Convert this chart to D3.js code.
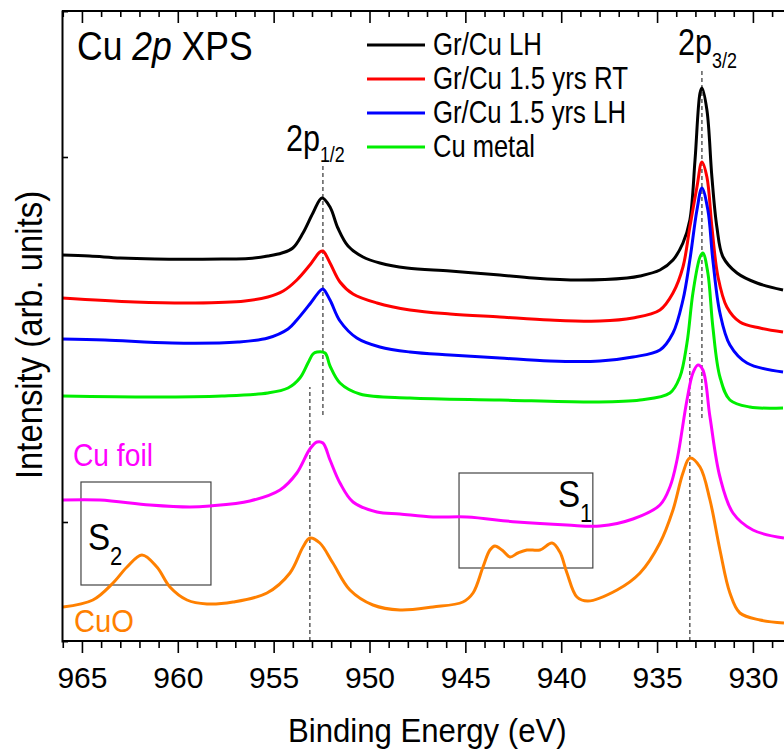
<!DOCTYPE html>
<html>
<head>
<meta charset="utf-8">
<script src="https://cdn.jsdelivr.net/npm/d3@7/dist/d3.min.js"></script>
<style>
  html, body { margin: 0; padding: 0; background: #fff; }
  svg { display: block; }
  text { font-family: "Liberation Sans", Arial, sans-serif; }
</style>
</head>
<body>
<svg id="chart" width="784" height="753"></svg>
<script>
// ---------------- DATA (binding energy in eV, intensity in arb. units) ----------------
const seriesNames = ["Gr/Cu LH", "Gr/Cu 1.5 yrs RT", "Gr/Cu 1.5 yrs LH", "Cu metal", "Cu foil", "CuO"];
const seriesColors = ["#000000", "#ff0000", "#0000ff", "#00ee00", "#ff00ff", "#ff8000"];

const grCuLH = [
  [966.04,386],[964.6,385],[963.0,383],[961.19,382],[957.7,382],[956.3,382.5],[955.3,385],
  [954.57,388],[954.0,393],[953.47,408],[952.95,428],[952.48,443],[952.06,434],
  [951.65,413],[951.12,395],[950.34,384],[949.46,378],[948.05,373],[945.8,370],[943.2,366],
  [941.47,363],[939.02,361],[936.57,363],[935.89,365],[934.85,371],[934.17,381],[933.65,398],
  [933.29,421],[933.02,481],[932.76,548],[932.66,553],[932.4,531],[932.14,464],[931.88,414],
  [931.56,384],[930.83,368],[929.79,358],[928.43,351]
];
const grCu15RT = [
  [966.04,343],[962.24,339],[959.1,338],[956.5,340],[955.3,344],[954.5,350],[953.79,361],[953.11,376],
  [952.59,389],[952.43,390],[952.06,378],[951.54,359],[950.86,347],[949.61,338],[947.89,331],
  [945.8,327],[943.2,324],[940.59,321],[937.98,320],[936.26,323],[934.85,331],[934.17,348],
  [933.65,374],[933.29,414],[932.92,454],[932.66,479],[932.4,464],[932.14,414],[931.82,364],
  [931.36,334],[930.68,319],[929.63,313],[928.43,309]
];
const grCu15LH = [
  [966.04,302],[963.8,301],[960.3,298],[956.86,299],[955.3,303],[954.25,312],[953.79,321],
  [953.11,337],[952.59,350],[952.43,352],[952.06,341],[951.54,320],[950.66,303],[949.46,294],
  [947.89,289],[945.8,286],[943.2,283],[940.59,280],[937.98,280],[936.26,284],[934.85,291],
  [934.17,308],[933.65,341],[933.29,381],[932.92,431],[932.66,453],[932.35,431],[932.09,381],
  [931.72,328],[931.2,296],[930.31,278],[928.43,269]
];
const cuMetal = [
  [966.04,245],[961.19,244],[957.7,245],[955.3,248],[954.25,253],[953.63,263],[953.21,278],
  [952.95,287],[952.74,289],[952.32,288],[952.06,275],[951.54,258],[950.5,247],[947.89,243],
  [943.2,241],[938.35,239],[935.89,241],[934.33,248],[933.81,264],[933.44,298],[933.13,348],
  [932.76,384],[932.61,388],[932.35,368],[932.09,314],[931.72,264],[931.2,241],[930.16,234],
  [928.43,233]
];
const cuFoil = [
  [965.99,141],[964.06,141],[961.45,136],[959.37,134],[958.32,135],[956.24,140],[954.67,151],
  [953.79,168],[953.11,192],[952.74,199],[952.43,198],[952.06,181],[951.54,158],[950.86,139],
  [949.61,129],[948.41,127],[946.69,124],[944.92,124],[942.31,119],[939.7,116],[937.98,115],
  [936.26,122],[934.85,136],[934.33,154],[933.96,181],[933.44,241],[933.13,268],[932.87,276],
  [932.61,271],[932.24,224],[931.72,164],[931.04,128],[930.0,111],[928.38,103]
];
const cuO = [
  [965.99,34],[964.43,41],[963.38,58],[962.65,74],[961.87,86],[961.09,74],[960.41,54],
  [959.52,41],[958.48,37],[957.12,39],[955.35,48],[954.15,68],[953.47,94],[953.11,103],
  [952.59,98],[951.91,78],[951.02,51],[949.82,36],[948.41,31],[946.69,34],[945.13,39],
  [944.6,48],[944.08,74],[943.72,91],[943.46,95],[943.09,91],[942.67,84],[942.26,88],
  [941.79,91],[941.11,91],[940.48,98],[940.07,89],[939.7,68],[939.18,44],[938.61,40],
  [937.09,51],[935.89,68],[934.85,98],[934.17,131],[933.65,168],[933.29,183],[932.76,174],
  [932.24,141],[931.72,91],[931.2,48],[930.68,28],[929.63,21],[928.38,18]
];
const seriesData = [grCuLH, grCu15RT, grCu15LH, cuMetal, cuFoil, cuO];

const majorTicks = [965, 960, 955, 950, 945, 940, 935, 930];
const majorTickLabels = ["965", "960", "955", "950", "945", "940", "935", "930"];
const minorTicks = d3.range(929, 967, 1);
const yTicks = [119, 484];

// reference (dashed) lines: energy, intensity from, intensity to
const refEnergies = [952.43, 932.66, 953.11, 933.29];
const refFrom = [226, 223, 0, 0];
const refTo = [476, 571, 254, 288];

// satellite boxes
const boxE1 = [965.05, 945.33];
const boxE2 = [958.27, 938.35];
const boxI1 = [56, 73];
const boxI2 = [159, 168];

// ---------------- CHART ----------------
const svg = d3.select("#chart");
const W = 784, H = 753;
const mg = { left: 62, top: 11, bottom: 641 };

const x = d3.scaleLinear().domain([966.04, 928]).range([62, 62 + 38.04 * 19.171]);
const y = d3.scaleLinear().domain([0, 630]).range([641, 11]);

svg.append("rect").attr("width", W).attr("height", H).attr("fill", "#fff");

const clip = svg.append("defs").append("clipPath").attr("id", "plotclip");
clip.append("rect").attr("x", 62).attr("y", 11).attr("width", 740).attr("height", 630);

const plot = svg.append("g").attr("clip-path", "url(#plotclip)");

refEnergies.forEach((e, i) => {
  plot.append("line")
    .attr("x1", x(e)).attr("x2", x(e))
    .attr("y1", y(refFrom[i])).attr("y2", y(refTo[i]))
    .attr("stroke", "#333").attr("stroke-width", 1.2)
    .attr("stroke-dasharray", "4,3");
});

boxE1.forEach((e, i) => {
  plot.append("rect")
    .attr("x", x(e)).attr("y", y(boxI2[i]))
    .attr("width", x(boxE2[i]) - x(e)).attr("height", y(boxI1[i]) - y(boxI2[i]))
    .attr("fill", "none").attr("stroke", "#444").attr("stroke-width", 1.2);
});

const lineGen = d3.line().x(d => x(d[0])).y(d => y(d[1])).curve(d3.curveCatmullRom.alpha(0.5));
seriesData.forEach((s, i) => {
  const sorted = s.slice().sort((a, b) => a[0] - b[0]);
  plot.append("path").datum(sorted)
    .attr("d", lineGen)
    .attr("fill", "none")
    .attr("stroke", seriesColors[i])
    .attr("stroke-width", 3)
    .attr("stroke-linejoin", "round");
});

// axes
const axisG = svg.append("g");
const bottomAxis = d3.axisBottom(x).tickValues(majorTicks).tickFormat((d, i) => majorTickLabels[i]).tickSize(12).tickPadding(14);
const bg = axisG.append("g").attr("transform", `translate(0,${mg.bottom})`).call(bottomAxis);
const bottomMinor = d3.axisBottom(x).tickValues(minorTicks.filter(v => v % 5 !== 0)).tickSize(7).tickFormat("");
const bgm = axisG.append("g").attr("transform", `translate(0,${mg.bottom})`).call(bottomMinor);
const topAxis = d3.axisTop(x).tickValues(majorTicks).tickSize(-12).tickFormat("");
const tg = axisG.append("g").attr("transform", `translate(0,${mg.top})`).call(topAxis);
const topMinor = d3.axisTop(x).tickValues(minorTicks.filter(v => v % 5 !== 0)).tickSize(-6).tickFormat("");
const tgm = axisG.append("g").attr("transform", `translate(0,${mg.top})`).call(topMinor);
const leftAxis = d3.axisLeft(y).tickValues(yTicks).tickSize(-6).tickFormat("");
const lg = axisG.append("g").attr("transform", `translate(${mg.left},0)`).call(leftAxis);

[bg, bgm, tg, tgm, lg].forEach(g => {
  g.select(".domain").attr("stroke", "#000").attr("stroke-width", 2);
  g.selectAll(".tick line").attr("stroke", "#000").attr("stroke-width", 1.6);
});
bg.selectAll(".tick text").attr("font-size", 30).attr("fill", "#000")
  .attr("font-family", "'Liberation Sans', Arial, sans-serif");
[bg, bgm, tg, tgm].forEach(g => g.select(".domain").remove());
axisG.append("line").attr("x1", 62).attr("x2", W + 10).attr("y1", mg.bottom).attr("y2", mg.bottom).attr("stroke", "#000").attr("stroke-width", 2);
axisG.append("line").attr("x1", 62).attr("x2", W + 10).attr("y1", mg.top).attr("y2", mg.top).attr("stroke", "#000").attr("stroke-width", 2);

function label(g, px, py, sx, fontSize, parts, color) {
  const t = g.append("text")
    .attr("transform", `translate(${px},${py}) scale(${sx},1)`)
    .attr("font-size", fontSize)
    .style("fill", color || "#000");
  parts.forEach(p => {
    const ts = t.append("tspan").text(p.t);
    if (p.italic) ts.attr("font-style", "italic");
    if (p.size) ts.attr("font-size", p.size);
    if (p.dy) ts.attr("dy", p.dy);
  });
  return t;
}

// axis titles
label(svg, 288, 742, 0.93, 33.5, [{ t: "Binding Energy (eV)" }]);
svg.append("text")
  .attr("transform", `translate(42,335) rotate(-90) scale(0.887,1)`)
  .attr("text-anchor", "middle")
  .attr("font-size", 37)
  .style("fill", "#000")
  .text("Intensity (arb. units)");

// title
label(svg, 77, 60, 0.866, 41, [{ t: "Cu " }, { t: "2p", italic: true }, { t: " XPS" }]);

// legend
const legX1 = 367, legX2 = 425, legTextX = 433;
const legY = [45, 79, 113, 147];
const legW = [109, 195, 193, 102];
for (let i = 0; i < 4; i++) {
  svg.append("line").attr("x1", legX1).attr("x2", legX2).attr("y1", legY[i]).attr("y2", legY[i])
    .attr("stroke", seriesColors[i]).attr("stroke-width", 3);
  svg.append("text")
    .attr("x", legTextX).attr("y", legY[i] + 10)
    .attr("font-size", 30.5)
    .style("fill", "#000")
    .attr("textLength", legW[i]).attr("lengthAdjust", "spacingAndGlyphs")
    .text(seriesNames[i]);
}

// peak labels
label(svg, x(954.36), 151, 0.815, 37.5, [{ t: "2p" }, { t: "1/2", size: 22, dy: 11 }]);
label(svg, x(933.91), 55, 0.815, 37.5, [{ t: "2p" }, { t: "3/2", size: 22, dy: 13 }]);

// satellite labels
label(svg, x(964.69), 550, 0.88, 37.7, [{ t: "S" }, { t: "2", size: 25, dy: 15 }]);
label(svg, x(940.17), 507, 0.88, 37.7, [{ t: "S" }, { t: "1", size: 25, dy: 15 }]);

// series labels
label(svg, x(965.47), 466, 0.92, 30.7, [{ t: seriesNames[4] }], seriesColors[4]);
label(svg, x(965.42), 632, 0.95, 30.7, [{ t: seriesNames[5] }], seriesColors[5]);

axisG.raise();
</script>
</body>
</html>
